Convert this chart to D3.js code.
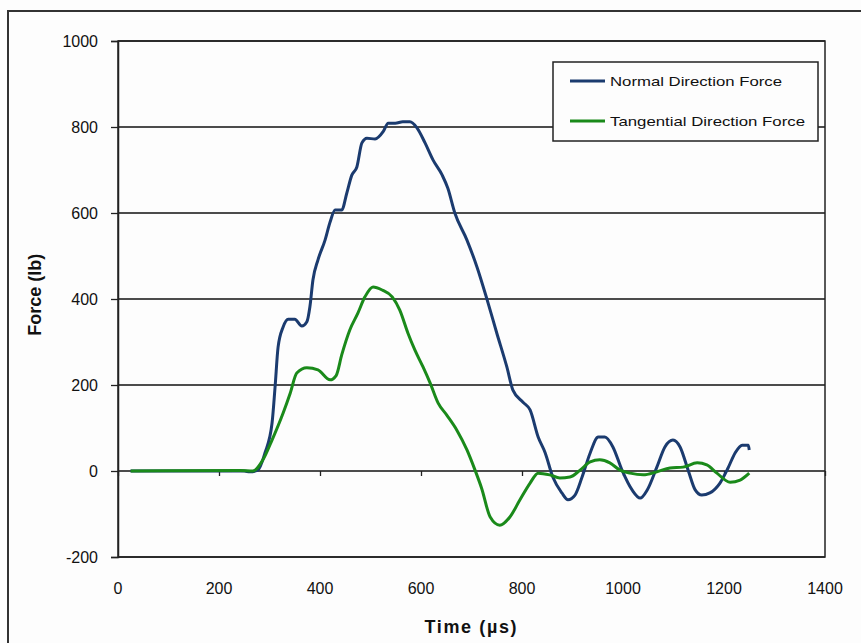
<!DOCTYPE html>
<html>
<head>
<meta charset="utf-8">
<script src="https://cdn.jsdelivr.net/npm/d3@7"></script>
<style>
  body { margin: 0; background: #fdfdfd; }
  text { font-family: Arial, "Liberation Sans", sans-serif; fill: #111; }
</style>
</head>
<body>
<div id="chart"></div>
<script>
// time (µs) and force (lb)
var normalTime = [25, 250, 261, 277, 291, 305, 311, 317, 327, 337, 350, 364, 374, 380, 386, 396, 410, 420, 430, 443, 453, 463, 473, 483, 493, 509, 525, 535, 549, 564, 578, 592, 608, 624, 642, 653, 667, 691, 711, 731, 750, 770, 782, 802, 816, 832, 846, 861, 879, 891, 905, 919, 935, 951, 964, 980, 998, 1018, 1034, 1048, 1067, 1083, 1099, 1113, 1129, 1143, 1156, 1172, 1192, 1208, 1222, 1236, 1248, 1250];
var normalForce = [0, 0, -2, 2, 42, 111, 195, 288, 335, 353, 353, 337, 347, 382, 444, 491, 537, 579, 607, 607, 646, 688, 707, 763, 774, 772, 789, 809, 809, 812, 812, 798, 763, 723, 688, 658, 600, 537, 474, 398, 321, 242, 188, 160, 142, 79, 42, -14, -51, -67, -56, -14, 42, 79, 79, 56, 2, -44, -63, -44, 9, 56, 72, 56, 2, -44, -56, -51, -28, 7, 42, 60, 60, 49];

var tangTime = [25, 242, 267, 287, 305, 327, 341, 354, 374, 396, 420, 432, 443, 459, 475, 489, 505, 523, 543, 558, 574, 588, 604, 618, 634, 651, 671, 691, 707, 720, 737, 756, 776, 796, 816, 832, 855, 875, 895, 915, 935, 954, 974, 994, 1014, 1040, 1067, 1093, 1119, 1147, 1166, 1186, 1212, 1232, 1250];
var tangForce = [0, 1, 0, 26, 72, 135, 181, 228, 240, 235, 212, 222, 270, 328, 367, 405, 428, 421, 405, 374, 321, 281, 242, 205, 158, 130, 95, 49, 2, -40, -107, -126, -107, -67, -28, -5, -9, -16, -14, 2, 21, 26, 19, 2, -5, -9, -2, 7, 9, 19, 14, -5, -26, -21, -5];

var xTicks = [0, 200, 400, 600, 800, 1000, 1200, 1400];
var yTicks = [-200, 0, 200, 400, 600, 800, 1000];
var seriesNames = ["Normal Direction Force", "Tangential Direction Force"];
var seriesColors = ["#1b3b6f", "#1a8a1a"];

var W = 861, H = 643;
var margin = {top: 41, right: 36, bottom: 86, left: 118};
var width = W - margin.left - margin.right;
var height = H - margin.top - margin.bottom;

var svg = d3.select("#chart").append("svg")
  .attr("width", W)
  .attr("height", H);

// outer chart border
svg.append("rect")
  .attr("x", 8).attr("y", 11)
  .attr("width", W).attr("height", H)
  .attr("fill", "none")
  .attr("stroke", "#333")
  .attr("stroke-width", 2);

var g = svg.append("g")
  .attr("transform", "translate(" + margin.left + "," + margin.top + ")");

var x = d3.scaleLinear().domain([0, 1400]).range([0, width]);
var y = d3.scaleLinear().domain([-200, 1000]).range([height, 0]);

// gridlines
g.append("g")
  .selectAll("line")
  .data(yTicks)
  .join("line")
  .attr("x1", 0).attr("x2", width)
  .attr("y1", function(d) { return y(d); })
  .attr("y2", function(d) { return y(d); })
  .attr("stroke", "#111")
  .attr("stroke-width", 1.3);

// plot border
g.append("rect")
  .attr("width", width).attr("height", height)
  .attr("fill", "none")
  .attr("stroke", "#222")
  .attr("stroke-width", 1.5);

var fmt = function(d) { return String(d); };

// Y axis
var yAxis = g.append("g")
  .call(d3.axisLeft(y).tickValues(yTicks).tickSize(7).tickPadding(13).tickFormat(fmt));
yAxis.select(".domain").attr("stroke", "#222").attr("stroke-width", 1.5);
yAxis.selectAll(".tick line").attr("stroke", "#222").attr("stroke-width", 1.3);
yAxis.selectAll("text").style("font-size", "16px").attr("fill", "#111");

// X axis: ticks on the zero line, labels below the plot
var xAxis = g.append("g")
  .attr("transform", "translate(0," + y(0) + ")")
  .call(d3.axisBottom(x).tickValues(xTicks).tickSize(5).tickFormat(""));
xAxis.select(".domain").remove();
xAxis.selectAll(".tick line").attr("stroke", "#222").attr("stroke-width", 1.3);

g.append("g")
  .selectAll("text")
  .data(xTicks)
  .join("text")
  .attr("x", function(d) { return x(d); })
  .attr("y", height + 37)
  .attr("text-anchor", "middle")
  .style("font-size", "16px")
  .text(fmt);

// axis titles
g.append("text")
  .attr("x", width / 2 - 1)
  .attr("y", height + 76)
  .attr("text-anchor", "middle")
  .style("font-size", "18px")
  .style("font-weight", "bold")
  .attr("textLength", 92)
  .text("Time (\u00b5s)");

g.append("text")
  .attr("transform", "translate(-77," + y(410) + ") rotate(-90)")
  .attr("text-anchor", "middle")
  .style("font-size", "18px")
  .style("font-weight", "bold")
  .text("Force (lb)");

// lines
var line = d3.line()
  .x(function(d) { return x(d[0]); })
  .y(function(d) { return y(d[1]); })
  .curve(d3.curveMonotoneX);

var series = [d3.zip(normalTime, normalForce), d3.zip(tangTime, tangForce)];
g.selectAll(".series")
  .data(series)
  .join("path")
  .attr("class", "series")
  .attr("fill", "none")
  .attr("stroke", function(d, i) { return seriesColors[i]; })
  .attr("stroke-width", 3)
  .attr("stroke-linejoin", "round")
  .attr("d", line);

// legend
var legend = svg.append("g").attr("transform", "translate(553,62)");
legend.append("rect")
  .attr("width", 265).attr("height", 79)
  .attr("fill", "#fdfdfd")
  .attr("stroke", "#222")
  .attr("stroke-width", 1.5);

var legendWidths = [172, 195];
seriesNames.forEach(function(name, i) {
  var row = legend.append("g").attr("transform", "translate(0," + (19 + i * 40) + ")");
  row.append("line")
    .attr("x1", 17).attr("x2", 52)
    .attr("stroke", seriesColors[i])
    .attr("stroke-width", 3);
  row.append("text")
    .attr("x", 57)
    .attr("y", 5)
    .style("font-size", "13px")
    .attr("textLength", legendWidths[i])
    .attr("lengthAdjust", "spacingAndGlyphs")
    .text(name);
});
</script>
</body>
</html>
